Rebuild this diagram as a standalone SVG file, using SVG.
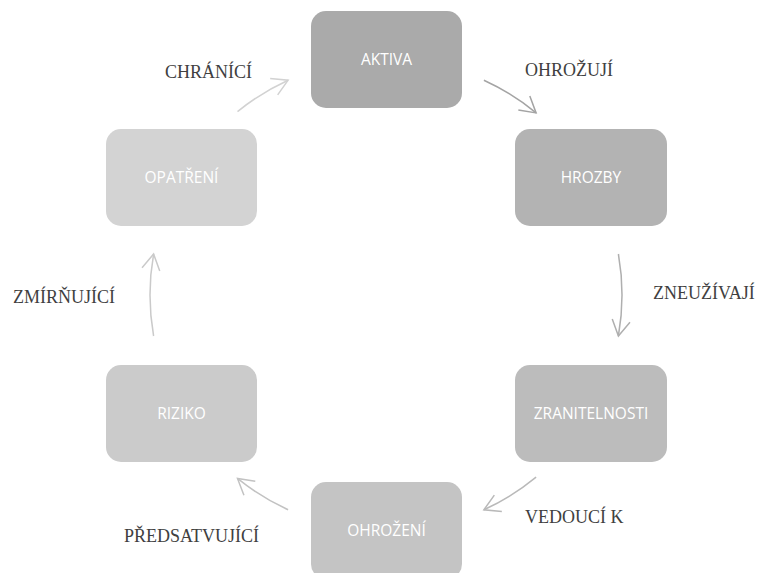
<svg xmlns="http://www.w3.org/2000/svg" width="763" height="573" viewBox="0 0 763 573">
<style>
.node rect{rx:15px;ry:15px}
.node text{font-family:"Open Sans","DejaVu Sans",sans-serif;font-size:15.5px;fill:#ffffff;text-anchor:middle}
.lbl{font-family:"Liberation Serif","Times New Roman",serif;font-size:18px;fill:#404040}
.conn path{fill:none;stroke-width:1.5}
</style>
<defs>
<marker id="ah1" markerUnits="userSpaceOnUse" markerWidth="40" markerHeight="40" refX="0" refY="0" viewBox="-20 -20 40 40" orient="auto"><path d="M-15.6,-9 L0,0 L-15.6,9" fill="none" stroke="#d2d2d2" stroke-width="1.5"/></marker>
<marker id="ah2" markerUnits="userSpaceOnUse" markerWidth="40" markerHeight="40" refX="0" refY="0" viewBox="-20 -20 40 40" orient="auto"><path d="M-15.6,-9 L0,0 L-15.6,9" fill="none" stroke="#a4a4a4" stroke-width="1.5"/></marker>
<marker id="ah3" markerUnits="userSpaceOnUse" markerWidth="40" markerHeight="40" refX="0" refY="0" viewBox="-20 -20 40 40" orient="auto"><path d="M-15.6,-9 L0,0 L-15.6,9" fill="none" stroke="#afafaf" stroke-width="1.5"/></marker>
<marker id="ah4" markerUnits="userSpaceOnUse" markerWidth="40" markerHeight="40" refX="0" refY="0" viewBox="-20 -20 40 40" orient="auto"><path d="M-15.6,-9 L0,0 L-15.6,9" fill="none" stroke="#b9b9b9" stroke-width="1.5"/></marker>
<marker id="ah5" markerUnits="userSpaceOnUse" markerWidth="40" markerHeight="40" refX="0" refY="0" viewBox="-20 -20 40 40" orient="auto"><path d="M-15.6,-9 L0,0 L-15.6,9" fill="none" stroke="#c2c2c2" stroke-width="1.5"/></marker>
<marker id="ah6" markerUnits="userSpaceOnUse" markerWidth="40" markerHeight="40" refX="0" refY="0" viewBox="-20 -20 40 40" orient="auto"><path d="M-15.6,-9 L0,0 L-15.6,9" fill="none" stroke="#cacaca" stroke-width="1.5"/></marker>
</defs>
<rect width="763" height="573" fill="#ffffff"/>
<g id="connectors" class="conn">
<path d="M237.5,111.6 A236,236 0 0 1 288.1,80.2" stroke="#d2d2d2" marker-end="url(#ah1)"/>
<path d="M483.9,80.2 A236,236 0 0 1 536.1,112.9" stroke="#a4a4a4" marker-end="url(#ah2)"/>
<path d="M618.4,254 A236,236 0 0 1 618.4,336" stroke="#afafaf" marker-end="url(#ah3)"/>
<path d="M536.1,477.1 A236,236 0 0 1 483.9,509.8" stroke="#b9b9b9" marker-end="url(#ah4)"/>
<path d="M288.1,509.8 A236,236 0 0 1 237.5,478.4" stroke="#c2c2c2" marker-end="url(#ah5)"/>
<path d="M153.6,336 A236,236 0 0 1 153.6,254" stroke="#cacaca" marker-end="url(#ah6)"/>
</g>
<g id="labels">
<text class="lbl" x="165" y="78">CHRÁNÍCÍ</text>
<text class="lbl" x="525" y="76">OHROŽUJÍ</text>
<text class="lbl" x="653" y="299">ZNEUŽÍVAJÍ</text>
<text class="lbl" x="525" y="523">VEDOUCÍ K</text>
<text class="lbl" x="124" y="542">PŘEDSATVUJÍCÍ</text>
<text class="lbl" x="13" y="303">ZMÍRŇUJÍCÍ</text>
</g>
<g id="aktiva" class="node"><rect x="311" y="11" width="151" height="97" fill="#aaaaaa"/><text x="386.5" y="65">AKTIVA</text></g>
<g id="hrozby" class="node"><rect x="515" y="129" width="152" height="97" fill="#b3b3b3"/><text x="591" y="183">HROZBY</text></g>
<g id="zranitelnosti" class="node"><rect x="515" y="365" width="152" height="97" fill="#bcbcbc"/><text x="591" y="419">ZRANITELNOSTI</text></g>
<g id="ohrozeni" class="node"><rect x="311" y="482" width="151" height="97" fill="#c4c4c4"/><text x="386.5" y="536">OHROŽENÍ</text></g>
<g id="riziko" class="node"><rect x="106" y="365" width="151" height="97" fill="#cbcbcb"/><text x="181.5" y="419">RIZIKO</text></g>
<g id="opatreni" class="node"><rect x="106" y="129" width="151" height="97" fill="#d3d3d3"/><text x="181.5" y="183">OPATŘENÍ</text></g>
</svg>
